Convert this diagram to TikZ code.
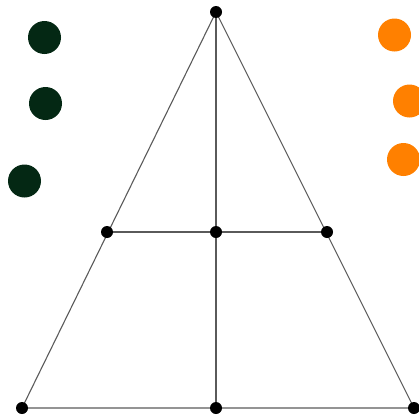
\documentclass[tikz,border=0pt]{standalone}
\definecolor{dkgreen}{RGB}{4,40,20}
\definecolor{myorange}{RGB}{255,128,0}
\definecolor{edgegray}{RGB}{90,90,90}
\begin{document}
\begin{tikzpicture}[x=1pt,y=-1pt,
  vert/.style={circle,fill=black,inner sep=0pt,minimum size=12pt},
  edge/.style={draw=edgegray,line width=1.1pt},
  gball/.style={circle,fill=dkgreen,inner sep=0pt,minimum size=33pt},
  oball/.style={circle,fill=myorange,inner sep=0pt,minimum size=33pt}]
\clip (0,0) rectangle (419,415);
\useasboundingbox (0,0) rectangle (419,415);
\coordinate (A) at (216,12);
\coordinate (BL) at (22,408);
\coordinate (BM) at (216,408);
\coordinate (BR) at (414,408);
\coordinate (ML) at (107,232);
\coordinate (MM) at (216,232);
\coordinate (MR) at (327,232);
\draw[edge] (A) -- (BL) -- (BR) -- cycle;
\draw[edge] (A) -- (BM);
\draw[edge] (ML) -- (MR);
\foreach \p in {A,BL,BM,BR,ML,MM,MR} \node[vert] (n\p) at (\p) {};
\node[gball] (g1) at (44.5,37.5) {};
\node[gball] (g2) at (45.5,103.5) {};
\node[gball] (g3) at (24.5,181) {};
\node[oball] (o1) at (394.5,35) {};
\node[oball] (o2) at (409.5,101) {};
\node[oball] (o3) at (403.5,159.5) {};
\end{tikzpicture}
\end{document}
